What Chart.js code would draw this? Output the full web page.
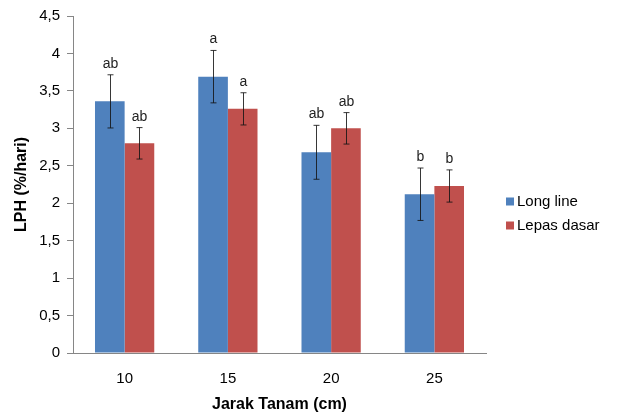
<!DOCTYPE html>
<html>
<head>
<meta charset="utf-8">
<script src="https://cdn.jsdelivr.net/npm/chart.js@4"></script>
<style>
html,body{margin:0;padding:0;background:#fff;}
#wrap{width:619px;height:418px;}
</style>
</head>
<body>
<div id="wrap"><canvas id="c" width="619" height="418"></canvas></div>
<script>
const categories = ['10', '15', '20', '25'];
const seriesNames = ['Long line', 'Lepas dasar'];
const longLine = [3.36, 3.69, 2.68, 2.12];
const lepasDasar = [2.80, 3.26, 3.00, 2.23];
const longLineErr = [0.355, 0.35, 0.36, 0.35];
const lepasDasarErr = [0.21, 0.215, 0.21, 0.215];
const longLineLetters = ['ab', 'a', 'ab', 'b'];
const lepasDasarLetters = ['ab', 'a', 'ab', 'b'];
const yTickLabels = ['0', '0,5', '1', '1,5', '2', '2,5', '3', '3,5', '4', '4,5'];

const colors = ['#4F81BD', '#C0504D'];
const errs = [longLineErr, lepasDasarErr];
const letters = [longLineLetters, lepasDasarLetters];
const FONT = '"Liberation Sans", Arial, sans-serif';

const errorBarPlugin = {
  id: 'errorBars',
  afterDatasetsDraw(chart) {
    const ctx = chart.ctx;
    const ys = chart.scales.y;
    chart.data.datasets.forEach((ds, di) => {
      const meta = chart.getDatasetMeta(di);
      meta.data.forEach((bar, i) => {
        const v = ds.data[i];
        const e = errs[di][i];
        const x = Math.round(bar.x) + 0.5;
        const yTop = ys.getPixelForValue(v + e);
        const yBot = ys.getPixelForValue(v - e);
        ctx.save();
        ctx.strokeStyle = 'rgba(20,20,20,0.85)';
        ctx.lineWidth = 1;
        ctx.beginPath();
        ctx.moveTo(x, yTop); ctx.lineTo(x, yBot);
        ctx.moveTo(x - 3, yTop); ctx.lineTo(x + 3, yTop);
        ctx.moveTo(x - 3, yBot); ctx.lineTo(x + 3, yBot);
        ctx.stroke();
        ctx.fillStyle = '#222';
        ctx.font = '14px ' + FONT;
        ctx.textAlign = 'center';
        ctx.textBaseline = 'alphabetic';
        ctx.fillText(letters[di][i], x, yTop - 7);
        ctx.restore();
      });
    });
  }
};

const legendPlugin = {
  id: 'customLegend',
  afterDraw(chart) {
    const ctx = chart.ctx;
    const ca = chart.chartArea;
    const x0 = ca.right + 20;
    const yMid = (ca.top + ca.bottom) / 2 + 29;
    ctx.save();
    ctx.font = '15px ' + FONT;
    ctx.textBaseline = 'middle';
    ctx.textAlign = 'left';
    seriesNames.forEach((name, i) => {
      const y = yMid + (i - 0.5) * 24;
      ctx.fillStyle = colors[i];
      ctx.fillRect(x0, y - 4, 8, 8);
      ctx.fillStyle = '#000';
      ctx.fillText(name, x0 + 11, y);
    });
    ctx.restore();
  }
};

new Chart(document.getElementById('c'), {
  type: 'bar',
  data: {
    labels: categories,
    datasets: [
      { label: seriesNames[0], data: longLine, backgroundColor: colors[0] },
      { label: seriesNames[1], data: lepasDasar, backgroundColor: colors[1] }
    ]
  },
  options: {
    responsive: false,
    animation: false,
    devicePixelRatio: 1,
    layout: { padding: { top: 14, right: 133, bottom: 0, left: 0 } },
    plugins: { legend: { display: false }, tooltip: { enabled: false } },
    datasets: { bar: { barPercentage: 1, categoryPercentage: 0.574 } },
    scales: {
      x: {
        grid: { display: false, drawTicks: false },
        border: { display: true, color: '#868686', width: 1 },
        ticks: { color: '#000', font: { family: FONT, size: 15 }, padding: 17 },
        title: { display: true, text: 'Jarak Tanam (cm)', color: '#000',
                 font: { family: FONT, size: 16, weight: 'bold' }, padding: { top: 0, bottom: 4 } },
        afterFit(scale) { scale.height = 65; }
      },
      y: {
        min: 0, max: 4.5,
        grid: { display: true, drawOnChartArea: false, drawTicks: true, tickLength: 6, color: '#868686' },
        border: { display: true, color: '#868686', width: 1 },
        ticks: { stepSize: 0.5, color: '#000', font: { family: FONT, size: 15 }, padding: 7,
                 callback: (v, i) => yTickLabels[i] },
        title: { display: true, text: 'LPH (%/hari)', color: '#000',
                 font: { family: FONT, size: 16, weight: 'bold' }, padding: { top: 12, bottom: 0 } },
        afterFit(scale) { scale.width = 73; }
      }
    }
  },
  plugins: [errorBarPlugin, legendPlugin]
});
</script>
</body>
</html>
